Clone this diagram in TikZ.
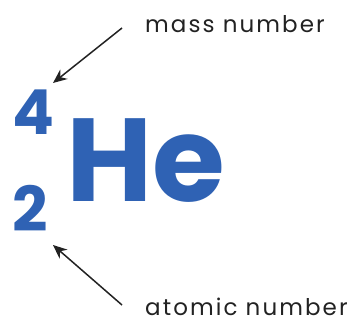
\documentclass[tikz,border=0pt]{standalone}
\usepackage{fontspec}
\setmainfont{Poppins}
\newfontfamily\lblfont[LetterSpace=9]{Poppins}
\usetikzlibrary{arrows.meta}
\definecolor{heblue}{HTML}{2F62B4}
\definecolor{labelgray}{HTML}{222222}
\tikzset{
  lbl/.style={inner sep=0pt, anchor=base west, text=labelgray, font=\lblfont\fontsize{23}{25}\selectfont},
  elem/.style={inner sep=0pt, anchor=base west, text=heblue, font=\bfseries\fontsize{118}{122}\selectfont},
  iso/.style={inner sep=0pt, anchor=base west, text=heblue, font=\bfseries\fontsize{62}{64}\selectfont},
  pointer/.style={draw=labelgray, line width=1.5pt, -{Stealth[length=14pt,width=12pt]}}
}
\begin{document}
\begin{tikzpicture}[x=1pt,y=1pt]
\useasboundingbox (0,0) rectangle (358,323);
\node[lbl] (mass) at (145,290) {mass number};
\node[lbl] (atomic) at (145,7) {atomic number};
\node[elem] (he) at (66,121) {He};
\node[iso] (four) at (12,188) {4};
\node[iso] (two) at (12,91) {2};
\coordinate (m1) at (122,295);
\coordinate (m2) at (53,240);
\coordinate (a1) at (122,18);
\coordinate (a2) at (53,78);
\draw[pointer] (m1) -- (m2);
\draw[pointer] (a1) -- (a2);
\end{tikzpicture}
\end{document}
